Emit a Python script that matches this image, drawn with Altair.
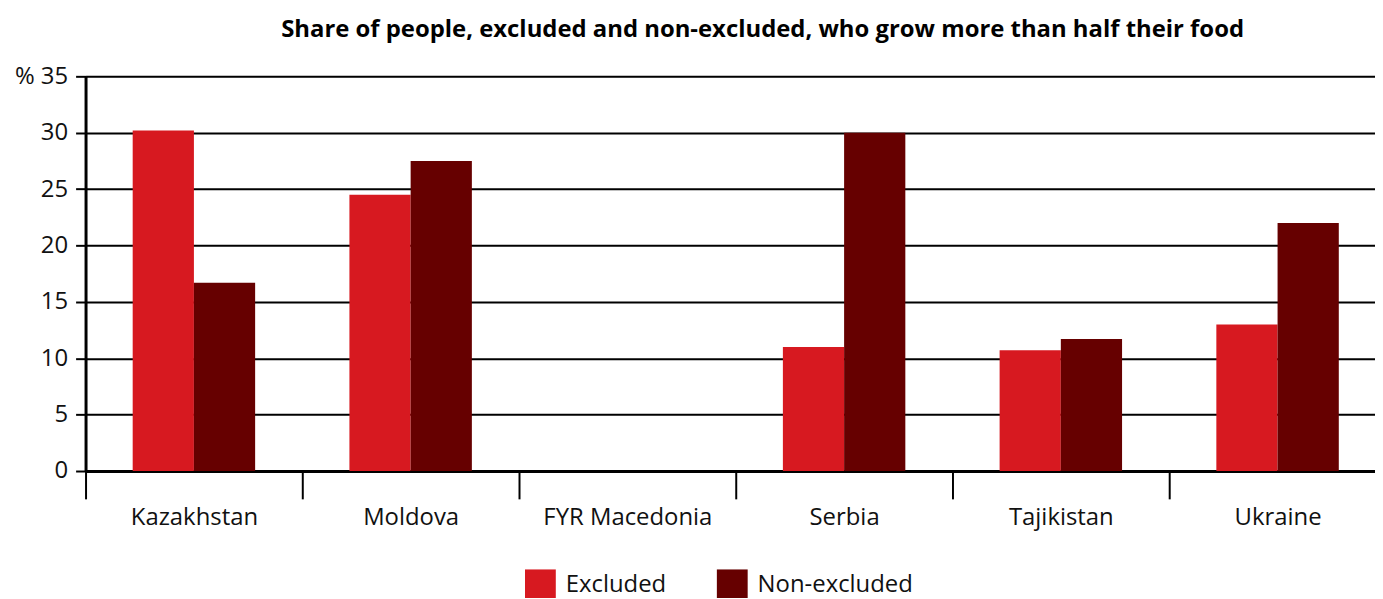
import altair as alt
import pandas as pd

countries = ["Kazakhstan", "Moldova", "FYR Macedonia", "Serbia", "Tajikistan", "Ukraine"]
excluded = [30.2, 24.5, None, 11.0, 10.7, 13.0]
non_excluded = [16.7, 27.5, None, 30.0, 11.7, 22.0]
groups = ["Excluded", "Non-excluded"]
colors = ["#d71920", "#660000"]
y_ticks = [0, 5, 10, 15, 20, 25, 30, 35]
title_text = "Share of people, excluded and non-excluded, who grow more than half their food"

rows = []
for c, e, n in zip(countries, excluded, non_excluded):
    rows.append({"country": c, "group": groups[0], "value": e})
    rows.append({"country": c, "group": groups[1], "value": n})
df = pd.DataFrame(rows)

FONT = "Open Sans"

chart = alt.Chart(df).mark_bar().encode(
    x=alt.X(
        "country:N",
        sort=countries,
        scale=alt.Scale(domain=countries, paddingInner=0, paddingOuter=0),
        axis=alt.Axis(
            title=None, tickBand="extent", tickSize=28, tickWidth=2, tickColor="black",
            domainColor="black", domainWidth=3, labelFontSize=24, labelFont=FONT,
            labelColor="#111111", labelPadding=7, labelAngle=0, grid=False,
        ),
    ),
    xOffset=alt.XOffset("group:N", sort=groups, scale=alt.Scale(paddingInner=0, paddingOuter=0.77)),
    y=alt.Y(
        "value:Q",
        scale=alt.Scale(domain=[0, 35], nice=False),
        axis=alt.Axis(
            values=y_ticks, title=None,
            labelExpr="datum.value == 35 ? '% 35' : datum.label",
            grid=True, gridColor="black", gridWidth=2,
            domainColor="black", domainWidth=3, tickColor="black", tickSize=10, tickWidth=2,
            labelFontSize=24, labelFont=FONT, labelColor="#111111", labelPadding=8,
        ),
    ),
    color=alt.Color(
        "group:N", sort=groups,
        scale=alt.Scale(domain=groups, range=colors),
        legend=alt.Legend(
            title=None, orient="none", legendX=442, legendY=496, direction="horizontal",
            symbolType="square", symbolSize=961, symbolStrokeWidth=0, labelFontSize=24,
            labelFont=FONT, labelColor="#111111", columnPadding=50, labelOffset=10,
            symbolOpacity=1, padding=0,
        ),
    ),
).properties(
    width=1308,
    height=397,
    title=alt.TitleParams(
        title_text, fontSize=24, font=FONT, fontWeight="bold", anchor="middle",
        dx=27, offset=23, color="#000000",
    ),
    autosize=alt.AutoSizeParams(type="none"),
    padding={"left": 78, "top": 67, "right": -11, "bottom": 126},
).configure_view(stroke=None).configure(background="white")

chart.save("out.html", embed_options={"renderer": "svg", "actions": False})
